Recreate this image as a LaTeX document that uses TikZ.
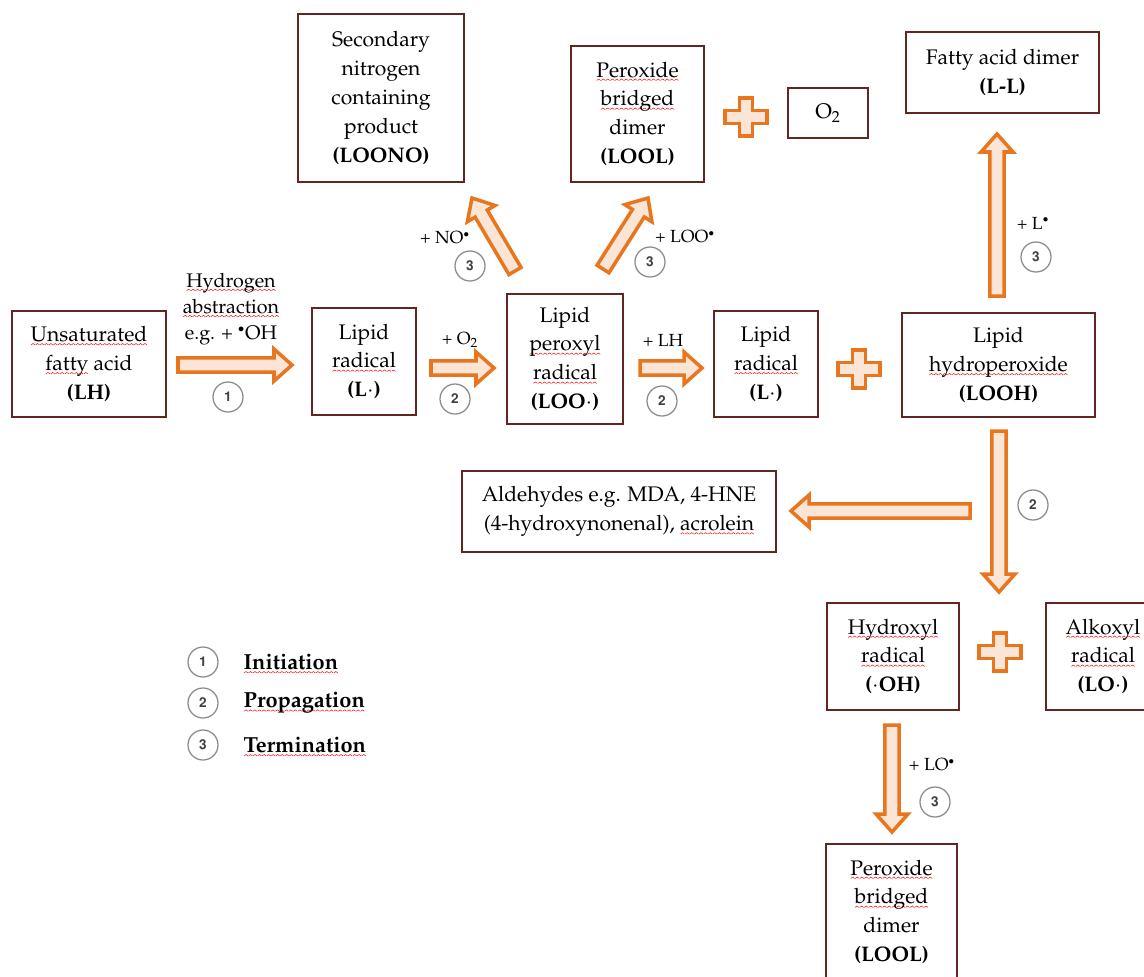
\documentclass[tikz,border=0pt]{standalone}
\usepackage[T1]{fontenc}
\usepackage{mathpazo}
\usepackage[scaled=0.92]{helvet}
\usepackage{tikz}
\usetikzlibrary{positioning,calc}

\definecolor{boxred}{RGB}{99,37,35}
\definecolor{arrorange}{RGB}{232,118,30}
\definecolor{arrfill}{RGB}{251,229,214}
\definecolor{stepgray}{RGB}{140,140,140}

% red spell-check wave under a word
\newsavebox{\wavebox}
\newsavebox{\wordbox}
\newcommand{\sq}[1]{\sbox{\wordbox}{#1}\leavevmode\rlap{\raisebox{-2.6pt}[0pt][0pt]{\hbox to \wd\wordbox{\xleaders\copy\wavebox\hfill}}}\usebox{\wordbox}}
% small raised radical dot
\newcommand{\rdot}{$^{\scriptscriptstyle\bullet}$}

% hollow block arrow from #1 to #2
\newcommand{\fatarrow}[2]{%
  \draw[fatarr] let \p1=(#1), \p2=(#2), \n1={veclen(\x2-\x1,\y2-\y1)} in
    ($(#1)!5pt!90:(#2)$) -- ($(#1)!\n1-12.8pt!(#2)!5pt!90:(#2)$)
    -- ($(#1)!\n1-12.8pt!(#2)!11.4pt!90:(#2)$) -- (#2)
    -- ($(#1)!\n1-12.8pt!(#2)!11.4pt!-90:(#2)$)
    -- ($(#1)!\n1-12.8pt!(#2)!5pt!-90:(#2)$)
    -- ($(#1)!5pt!-90:(#2)$) -- cycle;}

\tikzset{
  box/.style={draw=boxred, line width=2pt, fill=white, align=center, inner sep=2pt,
    font=\fontsize{15}{20.6}\selectfont},
  fatarr/.style={draw=arrorange, fill=arrfill, line width=2.5pt, line join=miter},
  stepnum/.style={circle, draw=stepgray, line width=0.9pt, minimum size=0.75cm, inner sep=0pt,
    font=\sffamily\bfseries\fontsize{10.5}{10.5}\selectfont, text=black!75},
  lab/.style={inner sep=0pt, font=\fontsize{12.5}{15}\selectfont},
  legtext/.style={inner sep=0pt, anchor=west, font=\bfseries\fontsize{15.5}{18}\selectfont},
  plus sign/.pic={
    \draw[fatarr] (-21,-6.5) -- (-6.5,-6.5) -- (-6.5,-19) -- (6.5,-19) -- (6.5,-6.5)
      -- (21,-6.5) -- (21,6.5) -- (6.5,6.5) -- (6.5,19) -- (-6.5,19) -- (-6.5,6.5)
      -- (-21,6.5) -- cycle;}
}

\begin{document}
\sbox{\wavebox}{\begin{pgfpicture}
  \pgfpathmoveto{\pgfpoint{0pt}{0pt}}\pgfpathlineto{\pgfpoint{1.4pt}{1pt}}
  \pgfpathlineto{\pgfpoint{2.8pt}{0pt}}
  \pgfsetlinewidth{0.35pt}\pgfsetstrokecolor{red}\pgfusepath{stroke}
\end{pgfpicture}}
\begin{tikzpicture}[x=0.025cm, y=-0.025cm]
    \useasboundingbox (0,0) rectangle (1144,976);

    %% main chain
    \node[box, minimum width=3.85cm, minimum height=2.65cm] (lh) at (89,364)
      {\sq{Unsaturated}\\\sq{fatty} acid\\\textbf{(LH)}};
    \node[box, minimum width=2.6cm, minimum height=2.675cm] (lr1) at (364,361.5)
      {Lipid\\\sq{radical}\\\textbf{(L$\cdot$)}};
    \node[box, minimum width=2.9cm, minimum height=3.25cm] (loo) at (565,359)
      {Lipid\\\sq{peroxyl}\\\sq{radical}\\\textbf{(LOO$\cdot$)}};
    \node[box, minimum width=2.6cm, minimum height=2.65cm] (lr2) at (766,364)
      {Lipid\\\sq{radical}\\\textbf{(L$\cdot$)}};
    \node[box, minimum width=4.825cm, minimum height=2.6cm] (looh) at (998.5,365)
      {Lipid\\\sq{hydroperoxide}\\\textbf{(LOOH)}};

    %% termination products
    \node[box, minimum width=4.15cm, minimum height=4.2cm] (loono) at (381,98)
      {Secondary\\nitrogen\\containing\\product\\\textbf{(LOONO)}};
    \node[box, minimum width=3.325cm, minimum height=3.4cm] (lool) at (637.5,114)
      {\sq{Peroxide}\\\sq{bridged}\\dimer\\\textbf{(LOOL)}};
    \node[box, minimum width=2cm, minimum height=1.25cm] (o2) at (828,113) {O\textsubscript{2}};
    \node[box, minimum width=4.825cm, minimum height=2.025cm] (ll) at (1002.5,72.5)
      {Fatty acid dimer\\\textbf{(L-L)}};

    %% breakdown of LOOH
    \node[box, minimum width=7.85cm, minimum height=2.025cm] (ald) at (619,511.5)
      {Aldehydes e.g. MDA, 4-HNE\\(4-hydroxynonenal), \sq{acrolein}};
    \node[box, minimum width=3.3cm, minimum height=2.675cm] (oh) at (893,656.5)
      {\sq{Hydroxyl}\\\sq{radical}\\\textbf{($\cdot$OH)}};
    \node[box, minimum width=2.85cm, minimum height=2.675cm] (lo) at (1103,656.5)
      {\sq{Alkoxyl}\\\sq{radical}\\\textbf{(LO$\cdot$)}};
    \node[box, minimum width=3.275cm, minimum height=3.4cm] (lool2) at (891.5,912)
      {\sq{Peroxide}\\\sq{bridged}\\dimer\\\textbf{(LOOL)}};

    %% plus signs
    \pic at (746,117) {plus sign};
    \pic at (859,369) {plus sign};
    \pic at (1000,652) {plus sign};

    %% block arrows
    \coordinate (a1s) at (178,365);  \coordinate (a1e) at (292,365);
    \coordinate (a2s) at (431,368);  \coordinate (a2e) at (494,368);
    \coordinate (a3s) at (640,368);  \coordinate (a3e) at (702,368);
    \coordinate (a4s) at (515,271);  \coordinate (a4e) at (472,198);
    \coordinate (a5s) at (603,269);  \coordinate (a5e) at (648,198);
    \coordinate (a6s) at (997,296);  \coordinate (a6e) at (997,134);
    \coordinate (a7s) at (999,431);  \coordinate (a7e) at (999,592);
    \coordinate (a8s) at (970,511);  \coordinate (a8e) at (791,511);
    \coordinate (a9s) at (892,725);  \coordinate (a9e) at (892,832);
    \fatarrow{a1s}{a1e}
    \fatarrow{a2s}{a2e}
    \fatarrow{a3s}{a3e}
    \fatarrow{a4s}{a4e}
    \fatarrow{a5s}{a5e}
    \fatarrow{a6s}{a6e}
    \fatarrow{a7s}{a7e}
    \fatarrow{a8s}{a8e}
    \fatarrow{a9s}{a9e}

    %% arrow labels
    \node[lab, align=center, font=\fontsize{14}{18.6}\selectfont] (hab) at (231,309)
      {\sq{Hydrogen}\\\sq{abstraction}\\e.g. + \rdot OH};
    \node[lab] (o2lab) at (460,340) {+ O\textsubscript{2}};
    \node[lab] (lhlab) at (663,340) {+ LH};
    \node[lab] (nolab) at (445,238) {+ NO\rdot};
    \node[lab] (loolab) at (685,237) {+ LOO\rdot};
    \node[lab] (llab) at (1033,223) {+ L\rdot};
    \node[lab] (lolab) at (932,765) {+ LO\rdot};

    %% step numbers
    \node[stepnum] (s1) at (228,397) {1};
    \node[stepnum] (s2a) at (455,399) {2};
    \node[stepnum] (s2b) at (662,401) {2};
    \node[stepnum] (s3a) at (470,266) {3};
    \node[stepnum] (s3b) at (650,262) {3};
    \node[stepnum] (s3c) at (1036,257) {3};
    \node[stepnum] (s2c) at (1033,505) {2};
    \node[stepnum] (s3d) at (935,802) {3};

    %% legend
    \node[stepnum] (lg1) at (203,662) {1};
    \node[stepnum] (lg2) at (203,703) {2};
    \node[stepnum] (lg3) at (203,745) {3};
    \node[legtext, right=0.62cm of lg1] (lgt1) {\sq{Initiation}};
    \node[legtext, right=0.62cm of lg2] (lgt2) {\sq{Propagation}};
    \node[legtext, right=0.62cm of lg3] (lgt3) {\sq{Termination}};
\end{tikzpicture}
\end{document}
